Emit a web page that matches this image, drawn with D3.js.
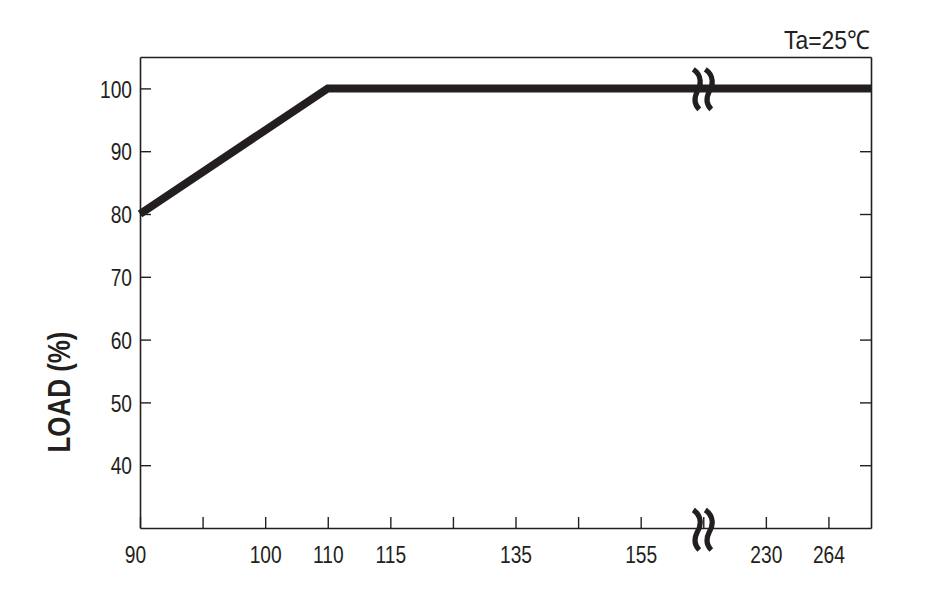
<!DOCTYPE html>
<html>
<head>
<meta charset="utf-8">
<script src="https://cdn.jsdelivr.net/npm/d3@7"></script>
<style>
  html, body { margin: 0; padding: 0; background: #fff; }
  svg { display: block; font-family: "Liberation Sans", Arial, sans-serif; }
</style>
</head>
<body>
<svg id="chart" width="939" height="602"></svg>
<script>
// x axis is a broken, evenly spaced scale: one slot per tick label
var xTickLabels = ["90", "", "100", "110", "115", "", "135", "", "155", "", "230", "264"];
var xBreakSlot = 9;
var xSlotEnd = 11.68;

var yTicks = [40, 50, 60, 70, 80, 90, 100];
var yDomain = [30, 105];

// derating curve: input voltage (V) vs load (%)
var curveVin = ["90", "110"];
var curveLoad = [80, 100];

var INK = "#231f20";
var plotLeft = 140, plotRight = 871, plotTop = 57, plotBottom = 528;

var svg = d3.select("#chart");

var x = d3.scaleLinear().domain([0, xSlotEnd]).range([plotLeft, plotRight]);
var y = d3.scaleLinear().domain(yDomain).range([plotBottom, plotTop]);

function condense(sel, k) {
  sel.each(function () {
    var w = this.getComputedTextLength();
    d3.select(this).attr("textLength", w * k).attr("lengthAdjust", "spacingAndGlyphs");
  });
}

function styleAxis(g) {
  g.select(".domain").attr("stroke", INK).attr("stroke-width", 1.6);
  g.selectAll(".tick line").attr("stroke", INK).attr("stroke-width", 1.4);
  g.selectAll(".tick text")
    .attr("fill", INK)
    .style("font-size", "24px")
    .style("font-family", "'Liberation Sans', Arial, sans-serif");
}

// left axis
var gLeft = svg.append("g")
  .attr("transform", "translate(" + plotLeft + ",0)")
  .call(d3.axisLeft(y).tickValues(yTicks).tickSizeInner(-11).tickSizeOuter(0).tickPadding(8));
styleAxis(gLeft);
gLeft.selectAll(".tick text").attr("dy", "0.36em");
condense(gLeft.selectAll(".tick text"), 0.8);

// right frame with inner ticks
var gRight = svg.append("g")
  .attr("transform", "translate(" + plotRight + ",0)")
  .call(d3.axisRight(y).tickValues(yTicks).tickSizeInner(-11).tickSizeOuter(0).tickFormat(""));
styleAxis(gRight);

// top frame
var gTop = svg.append("g")
  .attr("transform", "translate(0," + plotTop + ")")
  .call(d3.axisTop(x).tickValues([]).tickSizeOuter(0));
styleAxis(gTop);

// bottom axis
var gBottom = svg.append("g")
  .attr("transform", "translate(0," + plotBottom + ")")
  .call(d3.axisBottom(x)
    .tickValues(d3.range(xTickLabels.length))
    .tickFormat(function (i) { return xTickLabels[i]; })
    .tickSizeInner(-11).tickSizeOuter(0).tickPadding(18));
styleAxis(gBottom);
gBottom.selectAll(".tick text").filter(function (i) { return i === 0; }).attr("dx", -5);
condense(gBottom.selectAll(".tick text").filter(function (i) { return xTickLabels[i] !== ""; }), 0.8);

// curve
var pts = curveVin.map(function (v, i) {
  return [xTickLabels.indexOf(v), curveLoad[i]];
});
pts.push([xSlotEnd, curveLoad[curveLoad.length - 1]]);

svg.append("path")
  .datum(pts)
  .attr("fill", "none")
  .attr("stroke", INK)
  .attr("stroke-width", 8)
  .attr("stroke-linejoin", "miter")
  .attr("d", d3.line().x(function (d) { return x(d[0]); }).y(function (d) { return y(d[1]); }));

// break marks on the curve and on the bottom axis
function breakMark(cx, cy) {
  [0, 12].forEach(function (off) {
    var x0 = cx - 10 + off, y0 = cy;
    var p = d3.path();
    p.moveTo(x0, y0 - 20);
    p.bezierCurveTo(x0 + 9, y0 - 14, x0 + 8, y0 - 4, x0 + 4, y0 + 2);
    p.bezierCurveTo(x0 + 1, y0 + 8, x0, y0 + 14, x0 + 6, y0 + 20);
    svg.append("path")
      .attr("d", p.toString())
      .attr("fill", "none")
      .attr("stroke", INK)
      .attr("stroke-width", 5.2);
  });
}
breakMark(x(xBreakSlot), y(100) + 1);
breakMark(x(xBreakSlot), plotBottom + 2);

// y axis title
svg.append("text")
  .attr("transform", "translate(59,392) rotate(-90)")
  .attr("text-anchor", "middle")
  .attr("dominant-baseline", "central")
  .attr("fill", INK)
  .style("font-size", "31px")
  .style("font-weight", "bold")
  .attr("textLength", 121)
  .attr("lengthAdjust", "spacingAndGlyphs")
  .text("LOAD (%)");

// ambient temperature note
svg.append("text")
  .attr("x", 870)
  .attr("y", 49)
  .attr("text-anchor", "end")
  .attr("fill", INK)
  .style("font-size", "26px")
  .attr("textLength", 86)
  .attr("lengthAdjust", "spacingAndGlyphs")
  .text("Ta=25℃");
</script>
</body>
</html>
